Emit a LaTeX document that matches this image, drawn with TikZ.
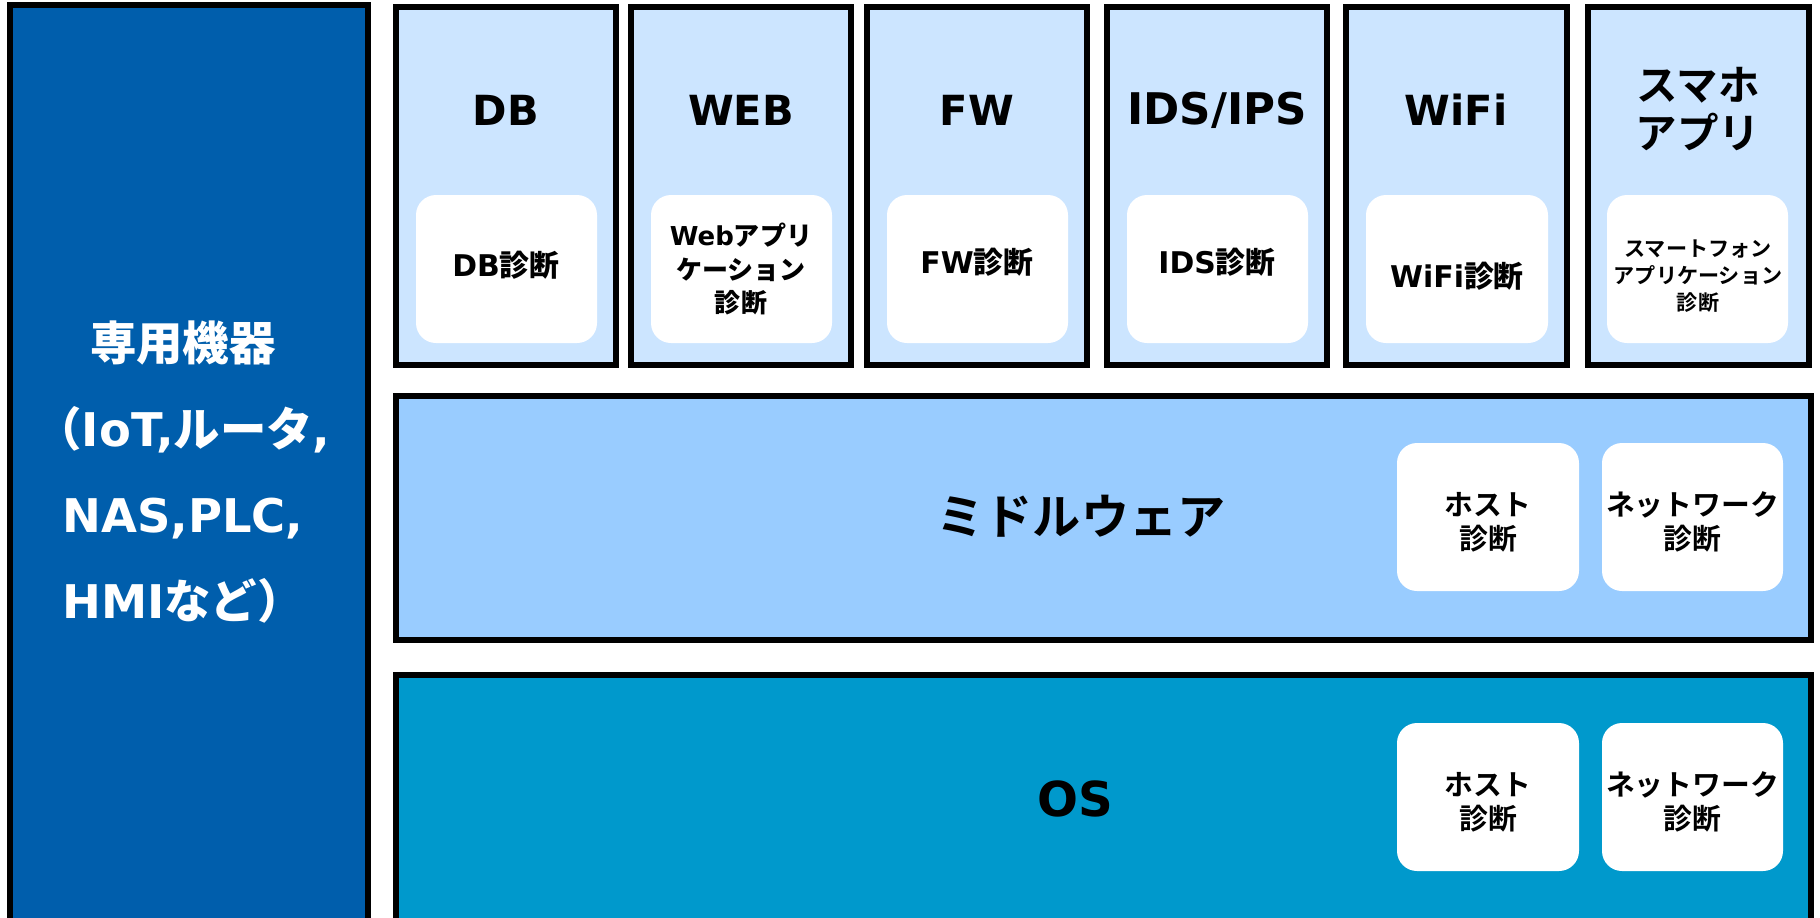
\documentclass[tikz,border=0pt]{standalone}
\usepackage{fontspec}
\setmainfont{DejaVu Sans}
\newfontfamily\jpfont{Noto Sans CJK JP Bold}
\newcommand\jt[1]{{\jpfont #1}}
\usetikzlibrary{fit}
\definecolor{leftblue}{RGB}{0,94,172}
\definecolor{topblue}{RGB}{204,229,255}
\definecolor{midblue}{RGB}{153,204,255}
\definecolor{osblue}{RGB}{0,153,204}
\tikzset{
  frame/.style={draw=black, line width=1.55pt, inner sep=0pt},
  card/.style={fill=white, rounded corners=0.2cm, inner sep=0pt},
  ttl/.style={font=\bfseries\fontsize{11.8pt}{13.6pt}\selectfont, align=center},
  cardtxt/.style={font=\bfseries\fontsize{8.5pt}{10pt}\selectfont, align=center},
  cardsmall/.style={font=\bfseries\fontsize{7.4pt}{9.4pt}\selectfont, align=center},
  cardtiny/.style={font=\bfseries\fontsize{6pt}{7.4pt}\selectfont, align=center},
  hosttxt/.style={font=\jpfont\fontsize{8.2pt}{9.7pt}\selectfont, align=center},
  bigtxt/.style={font=\bfseries\fontsize{13.7pt}{16pt}\selectfont, align=center},
  lefttxt/.style={font=\bfseries\fontsize{13.2pt}{24.5pt}\selectfont, align=center, text=white},
}
\begin{document}
\begin{tikzpicture}[x=0.01cm,y=-0.01cm]
\useasboundingbox (0,0) rectangle (1820,917);
\fill[white] (0,0) rectangle (1820,917);

% left column
\node[frame, fill=leftblue, fit={(10,5) (368,990)}] (left) {};
\node[lefttxt] (leftT) at (183,472) {\jt{専用機器}\\\jt{（}IoT,\jt{ルータ},\\NAS,PLC,\\HMI\jt{など）}};

% top boxes
\node[frame, fill=topblue, fit={(396,7) (616,365)}] (db) {};
\node[frame, fill=topblue, fit={(631,7) (851,365)}] (web) {};
\node[frame, fill=topblue, fit={(867,7) (1087,365)}] (fw) {};
\node[frame, fill=topblue, fit={(1107,7) (1327,365)}] (ids) {};
\node[frame, fill=topblue, fit={(1346,7) (1567,365)}] (wifi) {};
\node[frame, fill=topblue, fit={(1588,7) (1809,365)}] (sp) {};

\node[ttl] (dbT) at (506,110) {DB};
\node[ttl] (webT) at (741,110) {WEB};
\node[ttl] (fwT) at (977,110) {FW};
\node[ttl, font=\bfseries\fontsize{12.4pt}{13.6pt}\selectfont] (idsT) at (1217,110) {IDS/IPS};
\node[ttl] (wifiT) at (1456,110) {WiFi};
\node[ttl, font=\jpfont\fontsize{11.8pt}{13.6pt}\selectfont] (spT) at (1698,109) {スマホ\\アプリ};

\node[card, fit={(416,195) (597,343)}] (dbC) {};
\node[card, fit={(651,195) (832,343)}] (webC) {};
\node[card, fit={(887,195) (1068,343)}] (fwC) {};
\node[card, fit={(1127,195) (1308,343)}] (idsC) {};
\node[card, fit={(1366,195) (1548,343)}] (wifiC) {};
\node[card, fit={(1607,195) (1788,343)}] (spC) {};

\node[cardtxt] (dbL) at (506,265) {DB\jt{診断}};
\node[cardsmall] (webL) at (741,269) {Web\jt{アプリ}\\\jt{ケーション}\\\jt{診断}};
\node[cardtxt] (fwL) at (977,262) {FW\jt{診断}};
\node[cardtxt] (idsL) at (1217,262) {IDS\jt{診断}};
\node[cardtxt] (wifiL) at (1457,276) {WiFi\jt{診断}};
\node[cardtiny, font=\jpfont\fontsize{6pt}{7.6pt}\selectfont] (spL) at (1698,276) {スマートフォン\\アプリケーション\\診断};

% middleware
\node[frame, fill=midblue, fit={(396,396) (1811,640)}] (mw) {};
\node[bigtxt, font=\jpfont\fontsize{13.7pt}{16pt}\selectfont] (mwT) at (1081,516) {ミドルウェア};
\node[card, fit={(1397,443) (1579,591)}] (mwH) {};
\node[card, fit={(1602,443) (1783,591)}] (mwN) {};
\node[hosttxt] (mwHT) at ([yshift=-0.05cm]mwH.center) {ホスト\\診断};
\node[hosttxt] (mwNT) at ([yshift=-0.05cm]mwN.center) {ネットワーク\\診断};

% OS
\node[frame, fill=osblue, fit={(396,675) (1811,990)}] (os) {};
\node[bigtxt] (osT) at (1075,799) {OS};
\node[card, fit={(1397,723) (1579,871)}] (osH) {};
\node[card, fit={(1602,723) (1783,871)}] (osN) {};
\node[hosttxt] (osHT) at ([yshift=-0.05cm]osH.center) {ホスト\\診断};
\node[hosttxt] (osNT) at ([yshift=-0.05cm]osN.center) {ネットワーク\\診断};
\end{tikzpicture}
\end{document}
